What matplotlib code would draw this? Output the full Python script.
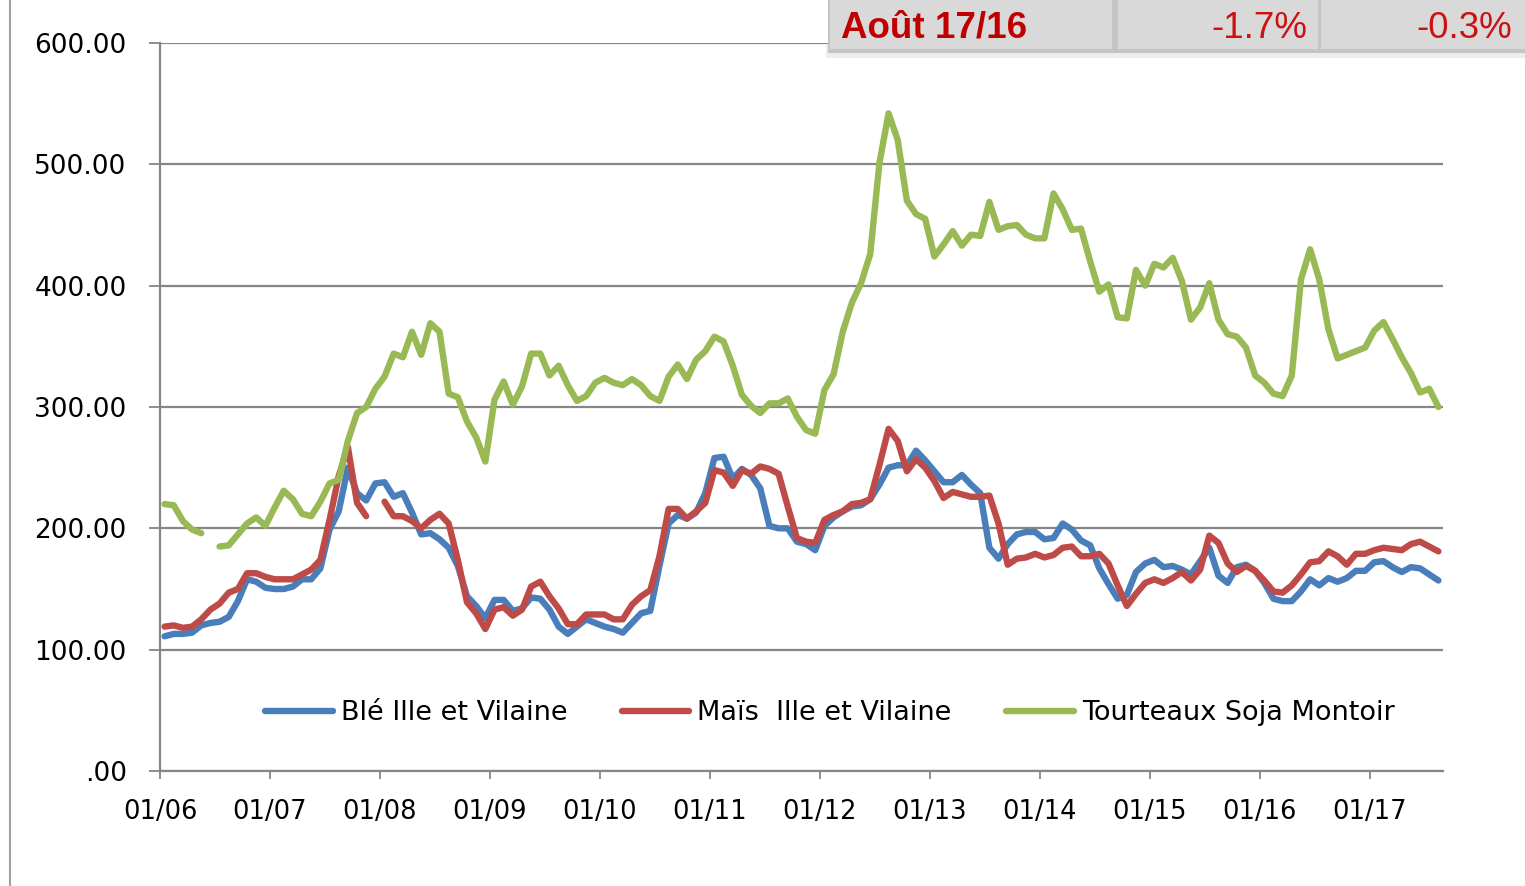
import numpy as np
import matplotlib
matplotlib.use("Agg")
import matplotlib.pyplot as plt
from matplotlib.patches import Rectangle
from matplotlib.lines import Line2D
from matplotlib.ticker import FuncFormatter

# monthly prices, Jan 2006 .. Aug 2017 (None = missing month)
ble = [111, 113, 113, 114, 120, 122, 123, 127, 140, 158,
       156, 151, 150, 150, 152, 158, 158, 167, 199, 214,
       250, 229, 223, 237, 238, 226, 229, 213, 195, 196,
       191, 184, 169, 144, 136, 126, 141, 141, 132, 134,
       143, 142, 133, 119, 113, 119, 125, 122, 119, 117,
       114, 122, 130, 132, 169, 204, 211, 208, 213, 229,
       258, 259, 241, 249, 244, 233, 202, 200, 200, 189,
       187, 182, 202, 209, 214, 218, 219, 224, 236, 250,
       252, 252, 264, 256, 247, 238, 238, 244, 236, 229,
       184, 175, 187, 195, 197, 197, 191, 192, 204, 199,
       190, 186, 167, 154, 142, 145, 164, 171, 174, 168,
       169, 166, 162, 173, 184, 161, 155, 168, 170, 165,
       155, 142, 140, 140, 148, 158, 153, 159, 156, 159,
       165, 165, 172, 173, 168, 164, 168, 167, 162, 157]

mais = [119, 120, 118, 119, 125, 133, 138, 147, 150, 163,
        163, 160, 158, 158, 158, 162, 166, 174, 207, 243,
        267, 221, 210, None, 222, 210, 210, 206, 200, 207,
        212, 204, 174, 139, 130, 117, 133, 135, 128, 133,
        152, 156, 144, 134, 121, 121, 129, 129, 129, 125,
        125, 137, 144, 149, 177, 216, 216, 208, 214, 221,
        248, 246, 235, 248, 245, 251, 249, 245, 218, 192,
        189, 188, 207, 211, 214, 220, 221, 224, 252, 282,
        272, 247, 257, 250, 239, 225, 230, 228, 226, 226,
        227, 204, 170, 175, 176, 179, 176, 178, 184, 185,
        177, 177, 179, 171, 153, 136, 146, 155, 158, 155,
        159, 164, 157, 166, 194, 188, 171, 164, 169, 165,
        157, 148, 147, 153, 162, 172, 173, 181, 177, 170,
        179, 179, 182, 184, 183, 182, 187, 189, 185, 181]

soja = [220, 219, 206, 199, 196, None, 185, 186, 195, 204,
        209, 202, 217, 231, 224, 212, 210, 222, 237, 240,
        272, 295, 300, 315, 325, 344, 341, 362, 343, 369,
        362, 311, 308, 288, 275, 255, 306, 321, 302, 317,
        344, 344, 326, 334, 318, 305, 309, 320, 324, 320,
        318, 323, 318, 309, 305, 325, 335, 323, 339, 346,
        358, 354, 334, 310, 301, 295, 303, 303, 307, 292,
        281, 278, 314, 327, 362, 386, 402, 426, 501, 542,
        520, 470, 459, 455, 424, 434, 445, 433, 442, 441,
        469, 446, 449, 450, 442, 439, 439, 476, 463, 446,
        447, 420, 395, 401, 374, 373, 413, 400, 418, 415,
        423, 404, 372, 382, 402, 372, 360, 358, 349, 326,
        320, 311, 309, 326, 405, 430, 405, 364, 340, 343,
        346, 349, 363, 370, 356, 341, 328, 312, 315, 300]

series_names = ["Blé Ille et Vilaine", "Maïs  Ille et Vilaine", "Tourteaux Soja Montoir"]
year_labels = ["01/06", "01/07", "01/08", "01/09", "01/10", "01/11",
               "01/12", "01/13", "01/14", "01/15", "01/16", "01/17"]
header_texts = ["Août 17/16", "-1.7%", "-0.3%"]

colors = ["#4a7ebb", "#be4b48", "#98b954"]
grey = "#868686"
W, H = 1525, 886

plt.rcParams["font.family"] = "DejaVu Sans"
fig = plt.figure(figsize=(W / 100, H / 100), dpi=100)
ax = fig.add_axes([160 / W, 1 - 771 / H, 1283 / W, 728 / H])

months = np.arange(len(ble)) + 0.5
for vals, name, c in zip([ble, mais, soja], series_names, colors):
    y = np.array([np.nan if v is None else v for v in vals], dtype=float)
    ax.plot(months, y, color=c, lw=4.6, label=name,
            solid_capstyle="round", solid_joinstyle="round")

ax.set_xlim(0, 140)
ax.set_ylim(0, 600)
ax.set_xticks(np.arange(len(year_labels)) * 12)
ax.set_xticklabels(year_labels)
ax.set_yticks(np.arange(0, 601, 100))
ax.yaxis.set_major_formatter(FuncFormatter(lambda v, p: ".00" if v == 0 else f"{v:.2f}"))
ax.grid(axis="y", color=grey, lw=1.6)
ax.set_axisbelow(True)
for s in ["top", "right"]:
    ax.spines[s].set_visible(False)
for s in ["left", "bottom"]:
    ax.spines[s].set_color(grey)
    ax.spines[s].set_linewidth(1.6)
ax.tick_params(axis="y", length=8, width=1.3, color=grey, pad=16, labelsize=19)
ax.tick_params(axis="x", length=6, width=1.3, color=grey, pad=14, labelsize=18.5)

ax.legend(loc="center", bbox_to_anchor=(0.522, 0.079), ncol=3, frameon=False,
          fontsize=19.5, handlelength=2.5, handletextpad=0.3, columnspacing=2.0)

# left border of the chart area
fig.add_artist(Line2D([10 / W, 10 / W], [0, 1], color="#a0a0a0", lw=1.5))

# header box top right
def box(x0, x1, y0, y1, color, z=5):
    fig.add_artist(Rectangle((x0 / W, 1 - y1 / H), (x1 - x0) / W, (y1 - y0) / H,
                             transform=fig.transFigure, color=color, zorder=z, lw=0))

box(826, 1525, 44, 58, "#ececec", 4)
box(828, 1525, 0, 53, "#c4c4c4", 4)
box(830, 1112, 0, 49, "#d9d9d9")
box(1118, 1318, 0, 49, "#d9d9d9")
box(1321, 1525, 0, 49, "#d9d9d9")
fig.text(841 / W, 1 - 28 / H, header_texts[0], color="#c00000", fontsize=26.5,
         fontweight="bold", family="Liberation Sans", va="center", zorder=6)
fig.text(1307 / W, 1 - 28 / H, header_texts[1], color="#cc1111", fontsize=26.5,
         family="Liberation Sans", va="center", ha="right", zorder=6)
fig.text(1512 / W, 1 - 28 / H, header_texts[2], color="#cc1111", fontsize=26.5,
         family="Liberation Sans", va="center", ha="right", zorder=6)

fig.savefig("out.png", dpi=100)
